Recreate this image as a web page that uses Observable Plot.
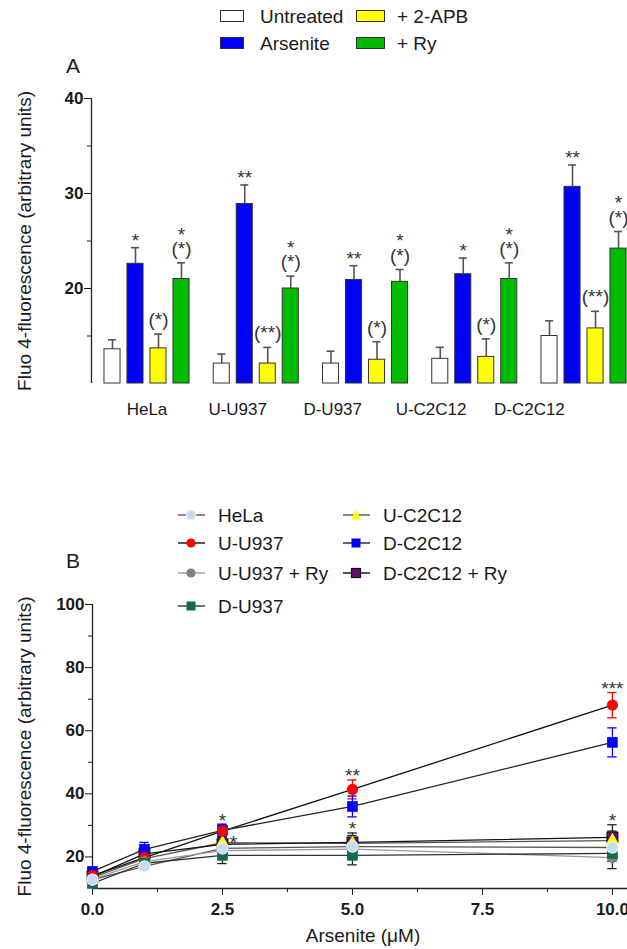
<!DOCTYPE html>
<html>
<head>
<meta charset="utf-8">
<script src="https://cdn.jsdelivr.net/npm/d3@7"></script>
<script src="https://cdn.jsdelivr.net/npm/@observablehq/plot@0.6"></script>
<style>
  body { margin: 0; background: #fff; font-family: "Liberation Sans", Arial, sans-serif; color: #1a1a1a; }
  #fig { position: relative; width: 627px; height: 949px; overflow: hidden; background: #fff; }
  .item { position: absolute; height: 20px; display: flex; align-items: center; white-space: nowrap; font-size: 19px; line-height: 1; }
  .swatch { display: inline-block; height: 10px; border: 1px solid #333; box-sizing: content-box; }
  .panel { position: absolute; font-size: 21px; line-height: 1; }
  .plot { position: absolute; left: 0; }
  .plot svg { overflow: visible; }
</style>
</head>
<body>
<div id="fig"></div>
<script>
// ---------- Panel A: Fluo-4 fluorescence per cell line and treatment ----------
const groups = ["HeLa", "U-U937", "D-U937", "U-C2C12", "D-C2C12"];
const treatments = ["Untreated", "Arsenite", "+ 2-APB", "+ Ry"];
const untreated    = [13.6, 12.1, 12.1, 12.6, 15.0];
const untreatedErr = [1.0, 1.0, 1.3, 1.2, 1.6];
const arsenite     = [22.6, 28.9, 20.9, 21.5, 30.7];
const arseniteErr  = [1.7, 2.0, 1.5, 1.7, 2.3];
const apb          = [13.7, 12.1, 12.5, 12.8, 15.8];
const apbErr       = [1.5, 1.7, 1.9, 1.9, 1.8];
const ry           = [21.0, 20.0, 20.7, 21.0, 24.2];
const ryErr        = [1.7, 1.3, 1.3, 1.7, 1.8];
const untreatedSig = ["", "", "", "", ""];
const arseniteSig  = ["*", "**", "**", "*", "**"];
const apbSig       = ["(*)", "(**)", "(*)", "(*)", "(**)"];
const rySig        = ["*\n(*)", "*\n(*)", "*\n(*)", "*\n(*)", "*\n(*)"];
// where the group names sit along the group axis
const groupLabelAt = [0, 0.83, 1.70, 2.60, 3.50];
const yTicksA = [20, 30, 40];
const yMinorA = [15, 25, 35];

// ---------- Panel B: dose response to arsenite ----------
const doses = [0, 1, 2.5, 5, 10];
const seriesNames = ["HeLa", "U-U937", "U-U937 + Ry", "D-U937", "U-C2C12", "D-C2C12", "D-C2C12 + Ry"];
const hela       = [12.8, 17.0, 22.7, 23.3, 23.0];
const helaErr    = [1.0, 1.0, 1.5, 1.5, 2.0];
const uU937      = [14.1, 19.8, 28.2, 41.4, 68.1];
const uU937Err   = [1.0, 1.5, 2.0, 3.0, 4.0];
const uU937Ry    = [13.0, 18.5, 22.0, 22.5, 19.8];
const uU937RyErr = [1.0, 1.5, 2.0, 2.5, 3.5];
const dU937      = [11.6, 18.0, 20.5, 20.5, 21.1];
const dU937Err   = [1.0, 1.5, 2.6, 3.0, 2.5];
const uC2C12     = [13.5, 19.5, 24.5, 24.3, 25.2];
const uC2C12Err  = [1.0, 1.5, 2.0, 2.5, 3.0];
const dC2C12     = [15.4, 22.4, 28.4, 36.0, 56.3];
const dC2C12Err  = [1.0, 2.2, 2.0, 3.3, 4.6];
const dC2C12Ry   = [13.8, 21.0, 24.0, 24.6, 26.2];
const dC2C12RyErr= [1.0, 1.5, 2.0, 3.0, 4.0];
// significance marks: series, dose, text
const noteSeries = ["U-U937", "U-C2C12", "U-U937", "D-C2C12 + Ry", "U-U937", "D-C2C12 + Ry"];
const noteDose   = [2.5, 2.5, 5, 5, 10, 10];
const noteText   = ["*", "*", "**", "*", "***", "*"];
const noteBeside = [false, true, false, false, false, false];
const xTicksB = [0, 2.5, 5, 7.5, 10];
const xMinorB = [1.25, 3.75, 6.25, 8.75];
const yTicksB = [20, 40, 60, 80, 100];
const yMinorB = [30, 50, 70, 90];

// ---------- styles ----------
const FONT = '"Liberation Sans", Arial, sans-serif';
const INK = "#1a1a1a";
const treatmentFills = ["#ffffff", "#0000ff", "#ffff00", "#00bb00"];
const seriesFill    = ["#c6dbf0", "#ff0000", "#808080", "#126b4a", "#ffff00", "#0000ff", "#6a0a6e"];
const seriesOutline = ["#e3ecf7", "none", "none", "none", "none", "none", "#111"];
const seriesLine    = ["#555", "#111", "#9a9a9a", "#333", "#555", "#222", "#111"];
const seriesErr     = ["#222", "#ff0000", "#222", "#222", "#222", "#0000ff", "#222"];
const seriesSymbol  = ["circle", "circle", "circle", "square", "triangle", "square", "square"];
const seriesR       = [5.6, 5.6, 5.6, 6.0, 5.0, 6.0, 6.0];
const markerOrder   = [6, 4, 5, 1, 2, 3, 0];

const fig = document.getElementById("fig");
function put(el, left, top) {
  el.style.left = left + "px";
  el.style.top = top + "px";
  fig.appendChild(el);
  return el;
}

// ---------- Panel A chart ----------
const seriesA = [untreated, arsenite, apb, ry];
const errA = [untreatedErr, arseniteErr, apbErr, ryErr];
const sigA = [untreatedSig, arseniteSig, apbSig, rySig];
const barStep = 0.2105, barWidth = 0.147, capA = 0.037;
const bars = groups.flatMap((g, i) => treatments.map((t, k) => {
  const cx = i + (k - 1.5) * barStep;
  return {
    group: g, treatment: t, cx,
    x1: cx - barWidth / 2, x2: cx + barWidth / 2,
    value: seriesA[k][i], top: seriesA[k][i] + errA[k][i], note: sigA[k][i]
  };
}));
const xDomainA = [-0.508, 4.398];

const plotA = Plot.plot({
  width: 627, height: 378,
  marginLeft: 91, marginRight: 0, marginTop: 46, marginBottom: 47,
  style: {fontFamily: FONT, fontSize: "17px", color: INK, background: "transparent"},
  x: {domain: xDomainA, axis: null},
  y: {domain: [10, 40], axis: null},
  color: {domain: treatments, range: treatmentFills},
  marks: [
    Plot.ruleX([xDomainA[0]], {stroke: "#222", strokeWidth: 1.3}),
    Plot.axisY({ticks: yTicksA, tickSize: 7, tickPadding: 1, fontWeight: "bold", fontSize: 17, label: null}),
    Plot.axisY({ticks: yMinorA, tickSize: 4, tickFormat: () => "", label: null}),
    Plot.axisX({ticks: groupLabelAt, tickSize: 0, tickPadding: 19, fontSize: 17, label: null,
      tickFormat: d => groups[groupLabelAt.indexOf(d)]}),
    Plot.ruleX(bars, {x: "cx", y1: "value", y2: "top", stroke: "#555", strokeWidth: 1.6}),
    Plot.ruleY(bars, {y: "top", x1: d => d.cx - capA, x2: d => d.cx + capA, stroke: "#555", strokeWidth: 1.6}),
    Plot.rectY(bars, {x1: "x1", x2: "x2", y1: 10, y2: "value", fill: "treatment", stroke: "#333", strokeWidth: 1}),
    Plot.text(bars.filter(d => d.note && !d.note.endsWith(")")), {
      x: "cx", y: "top", text: "note", lineAnchor: "bottom", dy: -1, fontSize: 19, fill: "#333"}),
    Plot.text(bars.filter(d => d.note.endsWith(")")), {
      x: "cx", y: "top", text: "note", lineAnchor: "bottom", dy: -8, lineHeight: 0.75, fontSize: 19, fill: "#333"}),
    Plot.text(["Fluo 4-fluorescence (arbitrary units)"], {
      frameAnchor: "left", textAnchor: "middle", rotate: -90, dx: -67, fontSize: 19})
  ]
});
const holderA = document.createElement("div");
holderA.className = "plot";
holderA.appendChild(plotA);
put(holderA, 0, 52);

// Panel A legend
const legendASlots = [[220, 6, 22, 260], [220, 33, 22, 260], [356, 6, 27, 397], [356, 33, 27, 397]];
treatments.forEach((t, k) => {
  const [left, top, w, textLeft] = legendASlots[k];
  const item = document.createElement("div");
  item.className = "item";
  const sw = document.createElement("span");
  sw.className = "swatch";
  sw.style.width = w + "px";
  sw.style.background = treatmentFills[k];
  const label = document.createElement("span");
  label.textContent = t;
  label.style.marginLeft = (textLeft - left - w - 2) + "px";
  item.append(sw, label);
  put(item, left, top);
});
const letterA = document.createElement("div");
letterA.className = "panel";
letterA.textContent = "A";
put(letterA, 66, 55);

// ---------- Panel B chart ----------
const meansB = [hela, uU937, uU937Ry, dU937, uC2C12, dC2C12, dC2C12Ry];
const errsB = [helaErr, uU937Err, uU937RyErr, dU937Err, uC2C12Err, dC2C12Err, dC2C12RyErr];
const rowsB = seriesNames.map((name, s) => doses.map((dose, j) => ({
  series: name, dose, mean: meansB[s][j], err: errsB[s][j]
})));
const notes = noteText.map((text, n) => {
  const s = seriesNames.indexOf(noteSeries[n]);
  const j = doses.indexOf(noteDose[n]);
  return {dose: noteDose[n], text, beside: noteBeside[n],
    top: meansB[s][j] + errsB[s][j], mean: meansB[s][j]};
});
const capB = 0.09;
const xDomainB = [0, 10.29];

const marksB = [
  Plot.ruleX([xDomainB[0]], {stroke: "#222", strokeWidth: 1.3}),
  Plot.ruleY([10], {stroke: "#222", strokeWidth: 1.3}),
  Plot.axisY({ticks: yTicksB, tickSize: 7, tickPadding: 1, fontWeight: "bold", fontSize: 17, label: null}),
  Plot.axisY({ticks: yMinorB, tickSize: 4, tickFormat: () => "", label: null}),
  Plot.axisX({ticks: xTicksB, tickSize: 7, tickPadding: 7, fontWeight: "bold", fontSize: 17, label: null,
    tickFormat: d3.format(".1f")}),
  Plot.axisX({ticks: xMinorB, tickSize: 4, tickFormat: () => "", label: null})
];
rowsB.forEach((rows, s) => {
  marksB.push(Plot.line(rows, {x: "dose", y: "mean", stroke: seriesLine[s], strokeWidth: 1.3}));
});
rowsB.forEach((rows, s) => {
  marksB.push(
    Plot.ruleX(rows, {x: "dose", y1: d => d.mean - d.err, y2: d => d.mean + d.err, stroke: seriesErr[s], strokeWidth: 1.3}),
    Plot.ruleY(rows, {y: d => d.mean + d.err, x1: d => d.dose - capB, x2: d => d.dose + capB, stroke: seriesErr[s], strokeWidth: 1.3}),
    Plot.ruleY(rows, {y: d => d.mean - d.err, x1: d => d.dose - capB, x2: d => d.dose + capB, stroke: seriesErr[s], strokeWidth: 1.3})
  );
});
markerOrder.forEach(s => {
  marksB.push(Plot.dot(rowsB[s], {x: "dose", y: "mean", symbol: seriesSymbol[s], r: seriesR[s],
    fill: seriesFill[s], stroke: seriesOutline[s], strokeWidth: 1.3}));
});
marksB.push(
  Plot.text(notes.filter(d => !d.beside), {x: "dose", y: "top", text: "text", lineAnchor: "bottom", dy: 2, fontSize: 19, fill: "#333"}),
  Plot.text(notes.filter(d => d.beside), {x: "dose", y: "mean", text: "text", lineAnchor: "bottom", dx: 11, dy: 6, fontSize: 19, fill: "#333"}),
  Plot.text(["Fluo 4-fluorescence (arbitrary units)"], {frameAnchor: "left", textAnchor: "middle", rotate: -90, dx: -68, fontSize: 19}),
  Plot.text(["Arsenite (\u03bcM)"], {frameAnchor: "bottom", dx: 3, dy: 53, fontSize: 19})
);

const plotB = Plot.plot({
  width: 627, height: 359,
  marginLeft: 92, marginRight: 0, marginTop: 14, marginBottom: 61,
  style: {fontFamily: FONT, fontSize: "17px", color: INK, background: "transparent"},
  x: {domain: xDomainB, axis: null},
  y: {domain: [10, 100], axis: null},
  marks: marksB
});
const holderB = document.createElement("div");
holderB.className = "plot";
holderB.appendChild(plotB);
put(holderB, 0, 590);

// Panel B legend
const legendBSlots = [[178, 505], [178, 533], [178, 563], [178, 596], [343, 505], [343, 533], [343, 563]];
const svgNS = "http://www.w3.org/2000/svg";
function legendMarker(s) {
  const svg = document.createElementNS(svgNS, "svg");
  svg.setAttribute("width", 27);
  svg.setAttribute("height", 16);
  const line = document.createElementNS(svgNS, "line");
  line.setAttribute("x1", 0); line.setAttribute("x2", 27);
  line.setAttribute("y1", 8); line.setAttribute("y2", 8);
  line.setAttribute("stroke", seriesLine[s]);
  line.setAttribute("stroke-width", 1.4);
  svg.appendChild(line);
  let m;
  if (seriesSymbol[s] === "circle") {
    m = document.createElementNS(svgNS, "circle");
    m.setAttribute("cx", 13); m.setAttribute("cy", 8); m.setAttribute("r", 4.6);
  } else if (seriesSymbol[s] === "square") {
    m = document.createElementNS(svgNS, "rect");
    m.setAttribute("x", 8.5); m.setAttribute("y", 3.5); m.setAttribute("width", 9); m.setAttribute("height", 9);
  } else {
    m = document.createElementNS(svgNS, "polygon");
    m.setAttribute("points", "13,2.5 18,12.5 8,12.5");
  }
  m.setAttribute("fill", seriesFill[s]);
  if (seriesOutline[s] !== "none") { m.setAttribute("stroke", seriesOutline[s]); m.setAttribute("stroke-width", 1.2); }
  svg.appendChild(m);
  return svg;
}
seriesNames.forEach((name, s) => {
  const [left, top] = legendBSlots[s];
  const item = document.createElement("div");
  item.className = "item";
  const label = document.createElement("span");
  label.textContent = name;
  label.style.marginLeft = "13px";
  item.append(legendMarker(s), label);
  put(item, left, top);
});
const letterB = document.createElement("div");
letterB.className = "panel";
letterB.textContent = "B";
put(letterB, 66, 550);
</script>
</body>
</html>
